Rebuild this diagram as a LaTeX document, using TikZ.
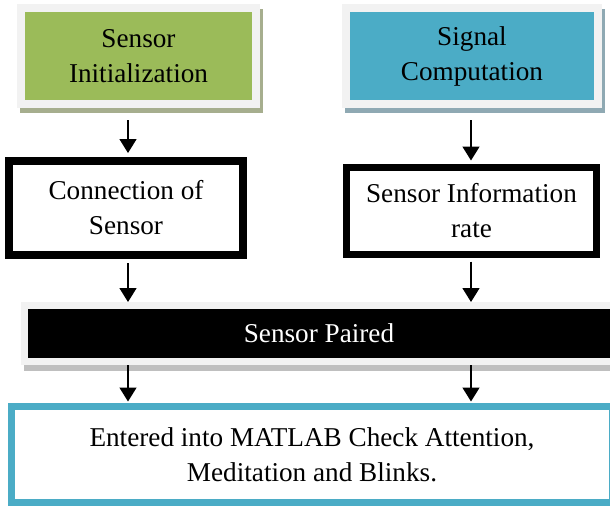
\documentclass[tikz,border=0pt]{standalone}
\usepackage{fontspec}
\setmainfont{Liberation Serif}
\usetikzlibrary{arrows.meta,shadows}
\definecolor{grn}{HTML}{9BBB59}
\definecolor{blu}{HTML}{4BACC6}
\definecolor{frm}{HTML}{F2F2F2}
\definecolor{gshad}{HTML}{A6AE8E}
\definecolor{bshad}{HTML}{8FA9B3}
\definecolor{kshad}{HTML}{BFBFBF}
\begin{document}
\begin{tikzpicture}[x=1pt,y=-1pt,
  every node/.style={inner sep=0pt, align=center, font=\fontsize{27.2}{35}\selectfont},
  topbox/.style={draw=frm, line width=8pt, minimum height=96pt,
    drop shadow={shadow xshift=3pt, shadow yshift=-5pt, fill=#1, draw=#1, line width=8pt, opacity=1}},
  whitebox/.style={draw=black, fill=white},
  barbox/.style={fill=black, draw=frm, line width=7pt, text=white,
    drop shadow={shadow xshift=3pt, shadow yshift=-6pt, fill=kshad, draw=kshad, line width=7pt, opacity=1}},
  endbox/.style={draw=blu, fill=white, line width=7pt},
  arr/.style={line width=1.6pt, -{Triangle[width=17pt,length=14pt]}}]
\useasboundingbox (0,0) rectangle (610,506);
\fill[white] (0,0) rectangle (610,506);
\clip (0,0) rectangle (610,506);
\node[topbox=gshad, fill=grn, minimum width=235pt] (g) at (138.5,56) {Sensor\\Initialization};
\node[topbox=bshad, fill=blu, minimum width=252pt] (b) at (472,56) {Signal\\Computation};
\node[whitebox, line width=8pt, minimum width=234pt, minimum height=94pt] (c) at (126,208) {Connection of\\Sensor};
\node[whitebox, line width=7pt, minimum width=250pt, minimum height=87pt] (s) at (471.5,211) {Sensor Information\\rate};
\node[barbox, minimum width=589pt, minimum height=56pt] (p) at (319,333.5) {Sensor Paired};
\node[endbox, minimum width=601pt, minimum height=96pt] (e) at (312,454.5) {Entered into MATLAB Check Attention,\\Meditation and Blinks.};
\coordinate (xl) at (128,0);
\coordinate (xr) at (471,0);
\draw[arr, shorten <=12pt, shorten >=4pt] (g.south -| xl) -- (c.north -| xl);
\draw[arr, shorten <=12pt, shorten >=3.5pt] (b.south -| xr) -- (s.north -| xr);
\draw[arr, shorten <=4pt] (c.south -| xl) -- (p.north -| xl);
\draw[arr, shorten <=3.5pt] (s.south -| xr) -- (p.north -| xr);
\draw[arr, shorten >=1.5pt] (p.south -| xl) -- (e.north -| xl);
\draw[arr, shorten >=1.5pt] (p.south -| xr) -- (e.north -| xr);
\end{tikzpicture}
\end{document}
